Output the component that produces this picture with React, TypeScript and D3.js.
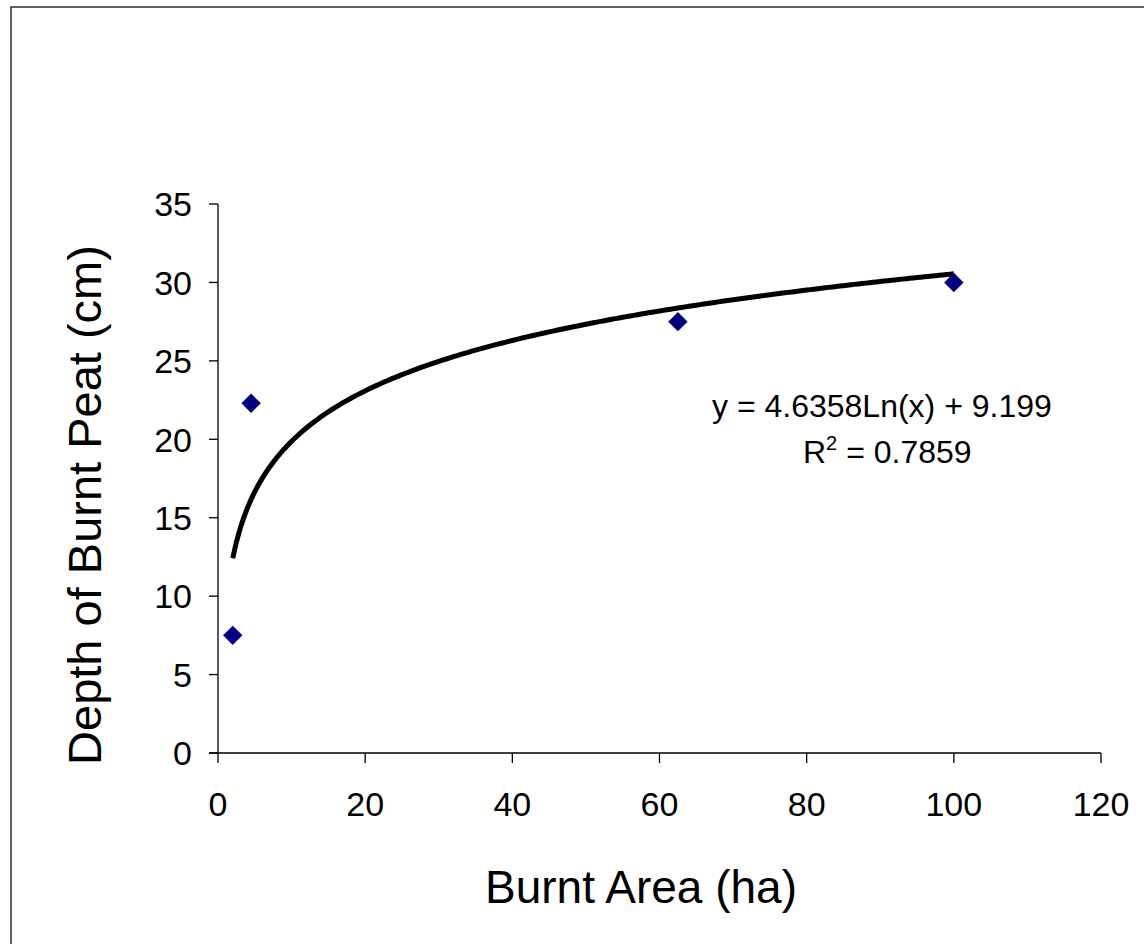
import React from 'react'
import * as d3 from 'd3'

// burnt area (ha) vs depth of burnt peat (cm)
const area = [2, 4.5, 62.5, 100]
const depth = [7.5, 22.3, 27.5, 30]

const xTicks = [0, 20, 40, 60, 80, 100, 120]
const yTicks = [0, 5, 10, 15, 20, 25, 30, 35]

// log trendline shown on the chart
const trendA = 4.6358
const trendB = 9.199
const trendR2 = 0.7859

const W = 1144
const H = 944
const font = 'Arial, "Liberation Sans", sans-serif'

const App = () => {
  const margin = ({ top: 204, right: 43, bottom: 191, left: 218 })

  const x = d3.scaleLinear()
    .domain([0, 120])
    .range([margin.left, W - margin.right])

  const y = d3.scaleLinear()
    .domain([0, 35])
    .range([H - margin.bottom, margin.top])

  const trendX = d3.range(area[0], d3.max(area) + 0.001, 0.5)
  const trendLine = d3.line<number>()
    .x(d => x(d))
    .y(d => y(trendA * Math.log(d) + trendB))

  const diamond = d3.symbol().type(d3.symbolDiamond2).size(240)

  return (
    <svg width={W} height={H} style={{ position: 'absolute', left: 0, top: 0, background: '#fff' }}>
      <rect x={11} y={7} width={W + 20} height={H + 20} fill='none' stroke='#222' strokeWidth={1.4} />

      {/* y axis */}
      <g fontFamily={font} fontSize={34} fill='#000'>
        <line x1={x(0)} x2={x(0)} y1={y(0)} y2={y(35)} stroke='#000' strokeWidth={1.3} />
        {yTicks.map(t => (
          <g key={t}>
            <line x1={x(0) - 9} x2={x(0)} y1={y(t)} y2={y(t)} stroke='#000' strokeWidth={1.3} />
            <text x={x(0) - 26} y={y(t)} dy='0.36em' textAnchor='end'>{t}</text>
          </g>
        ))}
      </g>

      {/* x axis */}
      <g fontFamily={font} fontSize={34} fill='#000'>
        <line x1={x(0) - 9} x2={x(120)} y1={y(0)} y2={y(0)} stroke='#000' strokeWidth={1.3} />
        {xTicks.map(t => (
          <g key={t}>
            <line x1={x(t)} x2={x(t)} y1={y(0)} y2={y(0) + 10} stroke='#000' strokeWidth={1.3} />
            <text x={x(t)} y={816} textAnchor='middle'>{t}</text>
          </g>
        ))}
      </g>

      <path d={trendLine(trendX) ?? ''} fill='none' stroke='#000' strokeWidth={5} strokeLinejoin='round' />

      {area.map((a, i) => (
        <path key={i} d={diamond() ?? ''} transform={`translate(${x(a)},${y(depth[i])})`} fill='#000080' />
      ))}

      <g fontFamily={font} fontSize={32} fill='#000'>
        <text x={712} y={417}>{`y = ${trendA}Ln(x) + ${trendB}`}</text>
        <text x={803} y={463}>
          R<tspan fontSize={20} dy={-13}>2</tspan><tspan dy={13}>{` = ${trendR2}`}</tspan>
        </text>
      </g>

      <text x={641} y={903} textAnchor='middle' fontFamily={font} fontSize={46}>Burnt Area (ha)</text>
      <text transform='translate(101,505) rotate(-90)' textAnchor='middle' fontFamily={font} fontSize={47}>Depth of Burnt Peat (cm)</text>
    </svg>
  )
}

export default App
